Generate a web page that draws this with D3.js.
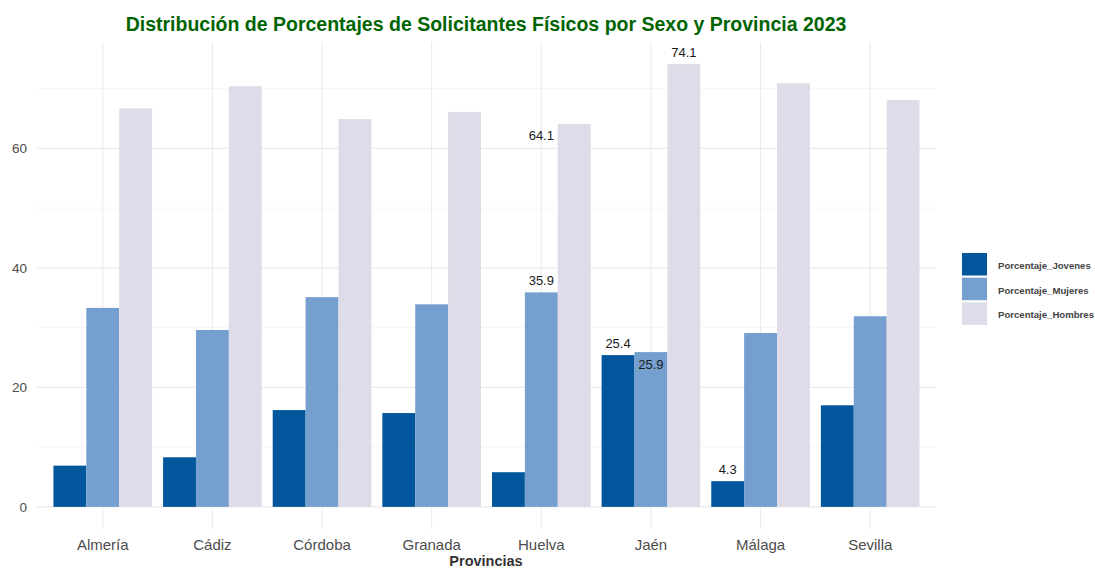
<!DOCTYPE html>
<html>
<head>
<meta charset="utf-8">
<script src="https://cdn.jsdelivr.net/npm/d3@7"></script>
<style>
  html, body { margin: 0; padding: 0; background: #fff; }
  svg { display: block; font-family: "Liberation Sans", Arial, sans-serif; }
</style>
</head>
<body>
<svg id="chart" width="1095" height="568"></svg>
<script>
const categories = ["Almería", "Cádiz", "Córdoba", "Granada", "Huelva", "Jaén", "Málaga", "Sevilla"];
const series = ["Porcentaje_Jovenes", "Porcentaje_Mujeres", "Porcentaje_Hombres"];
const jovenes = [6.9, 8.3, 16.2, 15.7, 5.8, 25.4, 4.3, 17.0];
const mujeres = [33.3, 29.6, 35.1, 33.9, 35.9, 25.9, 29.1, 31.9];
const hombres = [66.7, 70.4, 64.9, 66.1, 64.1, 74.1, 70.9, 68.1];
const yTicks = [0, 20, 40, 60];
const yMinor = [10, 30, 50, 70];
const colors = ["#02569b", "#749fce", "#dddce8"];
// labels shown in the chart: category, series slot used for x, value, placement
const labelCats   = ["Huelva", "Huelva", "Jaén", "Jaén", "Jaén", "Málaga"];
const labelSlots  = ["Porcentaje_Mujeres", "Porcentaje_Mujeres", "Porcentaje_Jovenes", "Porcentaje_Mujeres", "Porcentaje_Hombres", "Porcentaje_Jovenes"];
const labelValues = [64.1, 35.9, 25.4, 25.9, 74.1, 4.3];
const labelBelow  = [true, false, false, true, false, false];

const values = [jovenes, mujeres, hombres];
const svg = d3.select("#chart");
const panel = { left: 37, right: 936, top: 42, bottom: 529 };

const x = d3.scaleBand().domain(categories).range([panel.left, panel.right]).paddingInner(0.1).paddingOuter(0.15);
const xs = d3.scaleBand().domain(series).range([0, x.bandwidth()]).padding(0);
const maxV = d3.max(hombres);
const y = d3.scaleLinear().domain([-maxV * 0.05, maxV * 1.05]).range([panel.bottom, panel.top]);

const g = svg.append("g");
// minor grid
g.selectAll(".minor").data(yMinor).join("line")
  .attr("x1", panel.left).attr("x2", panel.right)
  .attr("y1", d => y(d)).attr("y2", d => y(d))
  .attr("stroke", "#eeeeee").attr("stroke-width", 0.6);
// major grid
g.selectAll(".major").data(yTicks).join("line")
  .attr("x1", panel.left).attr("x2", panel.right)
  .attr("y1", d => y(d)).attr("y2", d => y(d))
  .attr("stroke", "#ebebeb").attr("stroke-width", 1.1);
g.selectAll(".vgrid").data(categories).join("line")
  .attr("x1", d => x(d) + x.bandwidth() / 2).attr("x2", d => x(d) + x.bandwidth() / 2)
  .attr("y1", panel.top).attr("y2", panel.bottom)
  .attr("stroke", "#ebebeb").attr("stroke-width", 1.1);

// bars
const barData = [];
categories.forEach((c, i) => series.forEach((s, j) => barData.push({ c, s, v: values[j][i], j })));
g.selectAll(".bar").data(barData).join("rect")
  .attr("x", d => x(d.c) + xs(d.s))
  .attr("width", xs.bandwidth())
  .attr("y", d => y(d.v))
  .attr("height", d => y(0) - y(d.v))
  .attr("fill", d => colors[d.j]);

// labels
labelValues.forEach((v, i) => {
  g.append("text")
    .attr("x", x(labelCats[i]) + xs(labelSlots[i]) + xs.bandwidth() / 2)
    .attr("y", y(v) + (labelBelow[i] ? 12 : -12))
    .attr("dy", "0.35em")
    .attr("text-anchor", "middle")
    .attr("font-size", 13)
    .attr("fill", "#1a1a1a")
    .text(v.toFixed(1));
});

// y axis labels
const yAxis = d3.axisLeft(y).tickValues(yTicks).tickSize(0).tickPadding(0);
const ya = svg.append("g").attr("transform", `translate(27,0)`).call(yAxis);
ya.select(".domain").remove();
ya.selectAll("text").attr("font-size", 13.5).attr("fill", "#4d4d4d").attr("font-family", "Liberation Sans, Arial, sans-serif");

// x axis labels
const xAxis = d3.axisBottom(x).tickSize(0).tickPadding(0);
const xa = svg.append("g").attr("transform", `translate(0,539)`).call(xAxis);
xa.select(".domain").remove();
xa.selectAll("text").attr("font-size", 15).attr("fill", "#4d4d4d").attr("font-family", "Liberation Sans, Arial, sans-serif");

// axis title
svg.append("text").attr("x", 486).attr("y", 566)
  .attr("text-anchor", "middle").attr("font-size", 14.5).attr("font-weight", "bold").attr("fill", "#333")
  .text("Provincias");

// title
svg.append("text").attr("x", 486).attr("y", 31)
  .attr("text-anchor", "middle").attr("font-size", 19.5).attr("font-weight", "bold").attr("fill", "#006400")
  .text("Distribución de Porcentajes de Solicitantes Físicos por Sexo y Provincia 2023");

// legend
const lg = svg.append("g").attr("transform", "translate(962,253)");
series.forEach((s, j) => {
  lg.append("rect").attr("x", 0).attr("y", j * 24.7).attr("width", 25).attr("height", 22.5).attr("fill", colors[j]);
  lg.append("text").attr("x", 36).attr("y", j * 24.7 + 12.5).attr("dy", "0.35em")
    .attr("font-size", 9.6).attr("font-weight", "bold").attr("fill", "#444").text(s);
});
</script>
</body>
</html>
